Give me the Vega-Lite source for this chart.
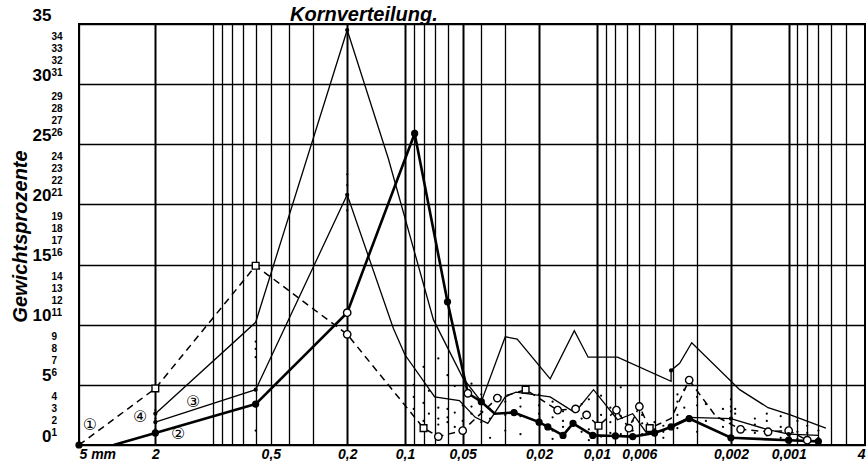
{
"$schema": "https://vega.github.io/schema/vega-lite/v6.json",
"width": 786, "height": 421,
"autosize": "none",
"padding": {"left": 79, "top": 24, "right": 1, "bottom": 16},
"background": "white",
"config": {"view": {"stroke": "black", "strokeWidth": 2}, "font": "Liberation Sans"},
"title": {"text": "Kornverteilung.", "anchor": "start", "frame": "group", "dx": 211, "dy": 37, "offset": 2, "fontSize": 20, "fontStyle": "italic", "fontWeight": "bold", "font": "Liberation Sans", "color": "black", "baseline": "alphabetic"},
"datasets": {
"curves": [
{"s":"1","i":1,"d":5,"p":0,"m":"f"},
{"s":"1","i":2,"d":2,"p":4.7,"m":"s"},
{"s":"1","i":3,"d":0.6,"p":14.9,"m":"s"},
{"s":"1","i":4,"d":0.2,"p":9.2,"m":"o"},
{"s":"1","i":5,"d":0.08,"p":1.4,"m":"s"},
{"s":"1","i":6,"d":0.067,"p":0.7,"m":"o"},
{"s":"1","i":7,"d":0.05,"p":1.2,"m":"o"},
{"s":"1","i":8,"d":0.033,"p":3.9,"m":"o"},
{"s":"1","i":9,"d":0.0235,"p":4.6,"m":"s"},
{"s":"1","i":10,"d":0.016,"p":2.9,"m":"o"},
{"s":"1","i":11,"d":0.0129,"p":3.0,"m":"o"},
{"s":"1","i":12,"d":0.0113,"p":2.5,"m":"o"},
{"s":"1","i":13,"d":0.0098,"p":1.6,"m":"s"},
{"s":"1","i":14,"d":0.0079,"p":2.9,"m":"o"},
{"s":"1","i":15,"d":0.0068,"p":1.4,"m":"o"},
{"s":"1","i":16,"d":0.006,"p":3.2,"m":"o"},
{"s":"1","i":17,"d":0.0053,"p":1.4,"m":"s"},
{"s":"1","i":18,"d":0.0041,"p":2.2,"m":""},
{"s":"1","i":19,"d":0.0033,"p":5.4,"m":"o"},
{"s":"1","i":20,"d":0.0024,"p":2.4,"m":""},
{"s":"1","i":21,"d":0.00178,"p":1.3,"m":"o"},
{"s":"1","i":22,"d":0.00128,"p":1.1,"m":"o"},
{"s":"1","i":23,"d":0.001,"p":1.2,"m":"o"},
{"s":"1","i":24,"d":0.0008,"p":0.4,"m":"o"},
{"s":"2","i":1,"d":3.3,"p":0,"m":""},
{"s":"2","i":2,"d":2,"p":1.0,"m":"f"},
{"s":"2","i":3,"d":0.6,"p":3.4,"m":"f"},
{"s":"2","i":4,"d":0.2,"p":11.0,"m":"o"},
{"s":"2","i":5,"d":0.089,"p":25.9,"m":"f"},
{"s":"2","i":6,"d":0.06,"p":11.9,"m":"f"},
{"s":"2","i":7,"d":0.047,"p":4.3,"m":"o"},
{"s":"2","i":8,"d":0.04,"p":3.6,"m":"f"},
{"s":"2","i":9,"d":0.034,"p":2.6,"m":""},
{"s":"2","i":10,"d":0.027,"p":2.7,"m":"f"},
{"s":"2","i":11,"d":0.02,"p":1.9,"m":"f"},
{"s":"2","i":12,"d":0.018,"p":1.5,"m":"f"},
{"s":"2","i":13,"d":0.015,"p":0.8,"m":"f"},
{"s":"2","i":14,"d":0.0133,"p":1.8,"m":"f"},
{"s":"2","i":15,"d":0.0105,"p":0.8,"m":"f"},
{"s":"2","i":16,"d":0.008,"p":0.75,"m":"f"},
{"s":"2","i":17,"d":0.0065,"p":0.7,"m":"f"},
{"s":"2","i":18,"d":0.005,"p":1.0,"m":"f"},
{"s":"2","i":19,"d":0.0041,"p":1.5,"m":"f"},
{"s":"2","i":20,"d":0.0033,"p":2.2,"m":"f"},
{"s":"2","i":21,"d":0.002,"p":0.6,"m":"f"},
{"s":"2","i":22,"d":0.001,"p":0.4,"m":"f"},
{"s":"2","i":23,"d":0.0007,"p":0.3,"m":"f"},
{"s":"3","i":1,"d":2,"p":1.9,"m":"t"},
{"s":"3","i":2,"d":0.6,"p":4.6,"m":"t"},
{"s":"3","i":3,"d":0.2,"p":20.8,"m":"t"},
{"s":"3","i":4,"d":0.115,"p":9.7,"m":""},
{"s":"3","i":5,"d":0.1,"p":7.5,"m":""},
{"s":"3","i":6,"d":0.07,"p":4.0,"m":""},
{"s":"3","i":7,"d":0.052,"p":3.7,"m":""},
{"s":"3","i":8,"d":0.043,"p":2.3,"m":""},
{"s":"3","i":9,"d":0.037,"p":1.8,"m":""},
{"s":"3","i":10,"d":0.03,"p":4.0,"m":""},
{"s":"3","i":11,"d":0.0264,"p":4.4,"m":""},
{"s":"3","i":12,"d":0.0175,"p":4.0,"m":""},
{"s":"3","i":13,"d":0.013,"p":2.7,"m":""},
{"s":"3","i":14,"d":0.0104,"p":4.6,"m":""},
{"s":"3","i":15,"d":0.0078,"p":2.1,"m":""},
{"s":"3","i":16,"d":0.0065,"p":2.6,"m":""},
{"s":"3","i":17,"d":0.0055,"p":1.0,"m":""},
{"s":"3","i":18,"d":0.0045,"p":1.2,"m":""},
{"s":"3","i":19,"d":0.0041,"p":1.6,"m":""},
{"s":"3","i":20,"d":0.0033,"p":2.3,"m":"t"},
{"s":"3","i":21,"d":0.002,"p":2.2,"m":"t"},
{"s":"3","i":22,"d":0.0013,"p":1.3,"m":""},
{"s":"3","i":23,"d":0.001,"p":0.9,"m":"t"},
{"s":"3","i":24,"d":0.0007,"p":0.8,"m":""},
{"s":"4","i":1,"d":2,"p":2.6,"m":"t"},
{"s":"4","i":2,"d":0.6,"p":10.2,"m":""},
{"s":"4","i":3,"d":0.2,"p":34.5,"m":"t"},
{"s":"4","i":4,"d":0.122,"p":23.8,"m":""},
{"s":"4","i":5,"d":0.071,"p":10.4,"m":""},
{"s":"4","i":6,"d":0.05,"p":5.6,"m":""},
{"s":"4","i":7,"d":0.04,"p":3.6,"m":""},
{"s":"4","i":8,"d":0.03,"p":9.0,"m":""},
{"s":"4","i":9,"d":0.026,"p":8.8,"m":""},
{"s":"4","i":10,"d":0.0175,"p":5.5,"m":""},
{"s":"4","i":11,"d":0.0131,"p":9.5,"m":""},
{"s":"4","i":12,"d":0.0111,"p":7.3,"m":""},
{"s":"4","i":13,"d":0.0078,"p":7.3,"m":""},
{"s":"4","i":14,"d":0.0041,"p":5.3,"m":""},
{"s":"4","i":15,"d":0.0041,"p":6.2,"m":"t"},
{"s":"4","i":16,"d":0.0037,"p":6.8,"m":""},
{"s":"4","i":17,"d":0.0032,"p":8.5,"m":""},
{"s":"4","i":18,"d":0.0018,"p":4.6,"m":""},
{"s":"4","i":19,"d":0.00128,"p":3.1,"m":""},
{"s":"4","i":20,"d":0.00098,"p":2.5,"m":""},
{"s":"4","i":21,"d":0.00064,"p":1.4,"m":""}
],
"dots": [
{"d":2,"p":1.3},{"d":2,"p":2.2},{"d":2,"p":2.9},
{"d":0.6,"p":7.3},{"d":0.6,"p":8.0},{"d":0.6,"p":8.6},{"d":0.6,"p":1.2},
{"d":0.2,"p":19.5},{"d":0.2,"p":21.6},{"d":0.2,"p":22.5},
{"d":0.09,"p":5.0},{"d":0.09,"p":4.0},{"d":0.09,"p":3.0},
{"d":0.08,"p":6.5},{"d":0.08,"p":3.5},{"d":0.08,"p":2.0},
{"d":0.075,"p":4.5},{"d":0.075,"p":2.6},
{"d":0.067,"p":7.2},{"d":0.067,"p":3.1},{"d":0.067,"p":2.2},{"d":0.067,"p":1.7},
{"d":0.06,"p":5.8},{"d":0.06,"p":3.0},{"d":0.06,"p":2.3},{"d":0.06,"p":1.9},
{"d":0.055,"p":4.9},{"d":0.055,"p":2.7},{"d":0.055,"p":1.5},
{"d":0.05,"p":3.3},{"d":0.05,"p":2.0},
{"d":0.045,"p":5.1},{"d":0.045,"p":3.2},{"d":0.045,"p":2.6},
{"d":0.04,"p":4.2},{"d":0.04,"p":2.8},{"d":0.04,"p":1.9},
{"d":0.036,"p":3.0},{"d":0.036,"p":2.2},{"d":0.036,"p":0.6},
{"d":0.03,"p":3.6},{"d":0.03,"p":2.5},{"d":0.03,"p":1.2},
{"d":0.025,"p":3.9},{"d":0.025,"p":3.2},{"d":0.025,"p":2.4},{"d":0.025,"p":0.9},
{"d":0.02,"p":4.2},{"d":0.02,"p":3.3},{"d":0.02,"p":2.6},
{"d":0.017,"p":3.6},{"d":0.017,"p":2.3},{"d":0.017,"p":1.2},{"d":0.017,"p":0.5},
{"d":0.015,"p":2.0},{"d":0.015,"p":1.5},{"d":0.015,"p":2.8},
{"d":0.012,"p":3.4},{"d":0.012,"p":2.2},{"d":0.012,"p":1.1},
{"d":0.011,"p":3.8},{"d":0.011,"p":1.3},{"d":0.011,"p":0.4},
{"d":0.0095,"p":4.1},{"d":0.0095,"p":2.5},{"d":0.0095,"p":0.7},
{"d":0.0085,"p":3.1},{"d":0.0085,"p":1.9},{"d":0.0085,"p":1.0},
{"d":0.0075,"p":4.8},{"d":0.0075,"p":2.4},{"d":0.0075,"p":0.9},
{"d":0.0065,"p":2.0},{"d":0.0065,"p":1.2},{"d":0.0065,"p":0.5},
{"d":0.0058,"p":2.5},{"d":0.0058,"p":1.8},{"d":0.0058,"p":0.9},
{"d":0.005,"p":1.9},{"d":0.005,"p":1.3},{"d":0.005,"p":0.8},
{"d":0.0045,"p":1.6},{"d":0.0045,"p":1.1},{"d":0.0045,"p":0.6},
{"d":0.0038,"p":4.2},{"d":0.0038,"p":3.6},{"d":0.0038,"p":2.5},{"d":0.0038,"p":1.4},
{"d":0.0035,"p":4.6},{"d":0.0035,"p":3.1},
{"d":0.003,"p":4.0},{"d":0.003,"p":3.3},{"d":0.003,"p":1.1},
{"d":0.0027,"p":3.4},{"d":0.0027,"p":2.0},
{"d":0.0022,"p":1.5},{"d":0.0022,"p":3.0},
{"d":0.002,"p":3.8},{"d":0.002,"p":3.2},{"d":0.002,"p":2.8},{"d":0.002,"p":1.8},
{"d":0.0019,"p":3.0},{"d":0.0019,"p":2.6},
{"d":0.0015,"p":2.2},{"d":0.0015,"p":1.7},{"d":0.0015,"p":1.0},
{"d":0.0013,"p":2.6},{"d":0.0013,"p":2.0},{"d":0.0013,"p":0.8},
{"d":0.0011,"p":2.4},{"d":0.0011,"p":1.5},{"d":0.0011,"p":0.6},
{"d":0.0009,"p":2.0},{"d":0.0009,"p":1.1},{"d":0.0009,"p":0.5},
{"d":0.0008,"p":1.6},{"d":0.0008,"p":1.0},{"d":0.0008,"p":0.3},
{"d":0.0007,"p":1.2},{"d":0.0007,"p":0.6}
],
"labels": [
{"d":4.38,"p":1.7,"t":"①"},
{"d":2.4,"p":2.3,"t":"④"},
{"d":1.27,"p":3.6,"t":"③"},
{"d":1.52,"p":0.9,"t":"②"}
]
},
"encoding": {
"x": {"field": "d", "type": "quantitative",
 "scale": {"type": "log", "domain": [0.0004, 5], "reverse": true, "nice": false, "zero": false},
 "axis": {"title": null, "values": [5,2,1,0.9,0.8,0.7,0.6,0.5,0.4,0.3,0.2,0.1,0.09,0.08,0.07,0.06,0.05,0.04,0.03,0.02,0.01,0.009,0.008,0.007,0.006,0.005,0.004,0.003,0.002,0.001,0.0009,0.0008,0.0007,0.0006,0.0005,0.0004],
  "labelExpr": "datum.value == 5 ? '5    mm' : (indexof([2,0.5,0.2,0.1,0.05,0.02,0.01,0.006,0.002,0.001], datum.value) >= 0 ? replace(toString(datum.value), '.', ',') : (datum.value == 0.0004 ? '4' : ''))",
  "grid": true, "gridColor": "black", "gridOpacity": 1,
  "gridWidth": {"expr": "indexof([2,0.2,0.1,0.05,0.02,0.01,0.002,0.001], datum.value) >= 0 ? 2 : 1.3"},
  "domain": false, "ticks": false, "labelPadding": 2, "labelOverlap": false, "labelFlush": true,
  "labelFont": "Liberation Sans", "labelFontSize": 14, "labelFontWeight": "bold", "labelFontStyle": "italic", "labelColor": "black"}},
"y": {"field": "p", "type": "quantitative",
 "scale": {"domain": [0, 35], "nice": false, "zero": true},
 "axis": {"title": "Gewichtsprozente", "values": [0,1,2,3,4,5,6,7,8,9,10,11,12,13,14,15,16,17,18,19,20,21,22,23,24,25,26,27,28,29,30,31,32,33,34,35],
  "format": "d", "grid": true, "gridColor": "black", "gridWidth": 1.6,
  "gridOpacity": {"expr": "datum.value % 5 == 0 ? 1 : 0"},
  "domain": false, "ticks": false, "labelPadding": 28,
  "labelAlign": {"expr": "datum.value % 5 == 0 ? 'right' : 'left'"},
  "labelBaseline": {"expr": "datum.value % 5 == 0 ? 'bottom' : 'middle'"},
  "labelFontSize": {"expr": "datum.value % 5 == 0 ? 17 : 10"},
  "labelFont": "Liberation Sans", "labelFontWeight": "bold", "labelColor": "black", "labelOverlap": false,
  "titleFont": "Liberation Sans", "titleFontSize": 20, "titleFontWeight": "bold", "titleFontStyle": "italic", "titleColor": "black",
  "titleX": -59, "titleY": 212, "titleAngle": -90, "titleAlign": "center", "titleBaseline": "middle"}}
},
"layer": [
{"data": {"name": "dots"}, "mark": {"type": "circle", "size": 5, "color": "black", "opacity": 1}},
{"data": {"name": "curves"}, "transform": [{"filter": "datum.s == '1'"}],
 "mark": {"type": "line", "strokeDash": [7, 5], "strokeWidth": 1.5, "color": "black"},
 "encoding": {"order": {"field": "i", "type": "quantitative"}}},
{"data": {"name": "curves"}, "transform": [{"filter": "datum.s == '2'"}],
 "mark": {"type": "line", "strokeWidth": 2.6, "color": "black"},
 "encoding": {"order": {"field": "i", "type": "quantitative"}}},
{"data": {"name": "curves"}, "transform": [{"filter": "datum.s == '3' || datum.s == '4'"}],
 "mark": {"type": "line", "strokeWidth": 1.3, "color": "black"},
 "encoding": {"detail": {"field": "s"}, "order": {"field": "i", "type": "quantitative"}}},
{"data": {"name": "curves"}, "transform": [{"filter": "datum.m != ''"}],
 "mark": {"type": "point", "filled": true, "stroke": "black", "strokeWidth": 1.4, "opacity": 1},
 "encoding": {
  "color": {"field": "m", "type": "nominal", "scale": {"domain": ["o","s","f","t"], "range": ["white","white","black","black"]}, "legend": null},
  "shape": {"field": "m", "type": "nominal", "scale": {"domain": ["o","s","f","t"], "range": ["circle","square","circle","circle"]}, "legend": null},
  "size": {"field": "m", "type": "nominal", "scale": {"type": "ordinal", "domain": ["o","s","f","t"], "range": [55, 45, 34, 8]}, "legend": null}}},
{"data": {"name": "labels"}, "mark": {"type": "text", "font": "DejaVu Sans", "fontSize": 16, "color": "black"},
 "encoding": {"text": {"field": "t"}}}
]
}
